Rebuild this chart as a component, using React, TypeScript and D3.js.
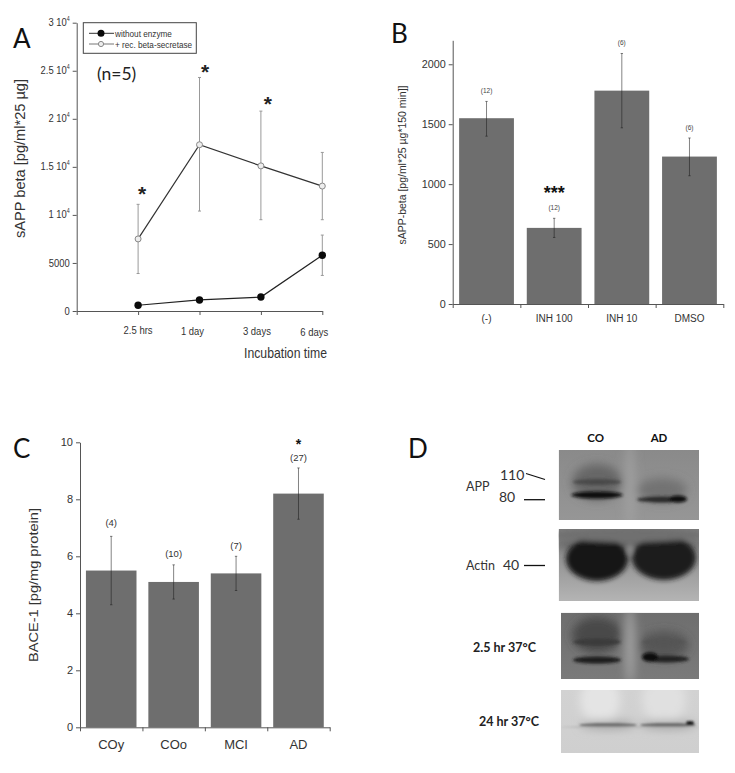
import { useEffect, useRef } from "react";
import * as d3 from "d3";

// Panel A
const timeLabels = ["2.5 hrs", "1 day", "3 days", "6 days"];
const withEnzyme = [7500, 17300, 15100, 13000];
const withEnzymeLow = [3900, 10400, 9500, 9500];
const withEnzymeHigh = [11100, 24300, 20800, 16500];
const noEnzyme = [600, 1150, 1450, 5800];
const noEnzymeLow = [600, 1150, 1450, 3700];
const noEnzymeHigh = [600, 1150, 1450, 7900];
const aTicks = [0, 5000, 10000, 15000, 20000, 25000, 30000];

// Panel B
const bCategories = ["(-)", "INH 100", "INH 10", "DMSO"];
const bValues = [1550, 635, 1780, 1230];
const bLow = [1400, 555, 1470, 1070];
const bHigh = [1690, 715, 2090, 1385];
const bCounts = ["(12)", "(12)", "(6)", "(6)"];
const bTicks = [0, 500, 1000, 1500, 2000];

// Panel C
const cCategories = ["COy", "COo", "MCI", "AD"];
const cValues = [5.5, 5.1, 5.4, 8.2];
const cLow = [4.3, 4.5, 4.8, 7.3];
const cHigh = [6.7, 5.7, 6.0, 9.1];
const cCounts = ["(4)", "(10)", "(7)", "(27)"];
const cTicks = [0, 2, 4, 6, 8, 10];

const ARIAL = "'Liberation Sans', Arial, sans-serif";
const CALIBRI = "Lato, sans-serif";

type Sel = d3.Selection<SVGGElement, unknown, null, undefined>;

function label(g: Sel, txt: string, x: number, y: number, size: number, font: string, fill = "#333", anchor = "start", weight = "normal") {
  return g
    .append("text")
    .attr("x", x)
    .attr("y", y)
    .attr("font-size", size)
    .attr("font-family", font)
    .attr("font-weight", weight)
    .attr("fill", fill)
    .attr("text-anchor", anchor)
    .text(txt);
}

// squeezes or stretches a label to the width it has in the figure
function fit(t: d3.Selection<SVGTextElement, unknown, null, undefined>, len: number) {
  return t.attr("textLength", len).attr("lengthAdjust", "spacingAndGlyphs");
}

function styleAxis(a: Sel, size: number, font: string) {
  a.selectAll("path, line").attr("stroke", "#555").attr("stroke-width", 1);
  a.selectAll("text").attr("font-size", size).attr("font-family", font).attr("fill", "#333");
}

function errorBars(g: Sel, xs: number[], low: number[], high: number[], y: d3.ScaleLinear<number, number>, stroke: string, cap: number) {
  xs.forEach((x, i) => {
    if (low[i] === high[i]) return;
    const p = d3.path();
    p.moveTo(x, y(low[i]));
    p.lineTo(x, y(high[i]));
    p.moveTo(x - cap, y(low[i]));
    p.lineTo(x + cap, y(low[i]));
    p.moveTo(x - cap, y(high[i]));
    p.lineTo(x + cap, y(high[i]));
    g.append("path").attr("d", p.toString()).attr("stroke", stroke).attr("stroke-width", 1).attr("fill", "none");
  });
}

function drawA(root: Sel) {
  const g = root.append("g");
  const y = d3.scaleLinear().domain([0, 30000]).range([311, 22.7]);
  const x = d3.scaleLinear().domain([0, 4]).range([76.7, 322.3]);
  const xs = timeLabels.map((_, i) => x(i + 1));

  const ay = g
    .append("g")
    .attr("transform", "translate(76.7,0)")
    .call(d3.axisLeft(y).tickValues(aTicks).tickSize(4).tickSizeOuter(0).tickFormat(d3.format("d") as any));
  styleAxis(ay, 11.5, ARIAL);
  ay.selectAll<SVGTextElement, number>("text").each(function (d) {
    const t = d3.select(this);
    t.attr("x", 0).attr("transform", `translate(-7,${d < 10000 ? 0 : -1}) scale(0.82,1)`);
    if (d < 10000) return;
    t.text(null);
    t.append("tspan").text(`${d / 10000} 10`);
    t.append("tspan").text("4").attr("font-size", 6.5).attr("dy", -5);
  });

  const ax = g
    .append("g")
    .attr("transform", "translate(0,311)")
    .call(d3.axisBottom(x).tickValues([0, 1, 2, 3, 4]).tickSize(4).tickSizeOuter(0).tickFormat(() => ""));
  styleAxis(ax, 11, ARIAL);

  const labelDx = [0, -7, -4, -8];
  const labelY = [334, 335, 335, 336];
  const labelLen = [29, 23, 28, 28];
  timeLabels.forEach((t, i) => fit(label(g, t, xs[i] + labelDx[i], labelY[i], 11.5, ARIAL, "#333", "middle"), labelLen[i]));
  fit(label(g, "Incubation time", 327, 358, 15, ARIAL, "#333", "end"), 83);

  fit(label(g, "sAPP beta [pg/ml*25 µg]", 0, 0, 14, ARIAL), 159).attr("transform", "translate(25,158.5) rotate(-90)").attr("text-anchor", "middle");

  errorBars(g, xs, withEnzymeLow, withEnzymeHigh, y, "#999", 1.5);
  errorBars(g, xs, noEnzymeLow, noEnzymeHigh, y, "#999", 1.5);

  const line = d3.line<number>().x((_, i) => xs[i]).y((d) => y(d));
  g.append("path").attr("d", line(withEnzyme)).attr("fill", "none").attr("stroke", "#333").attr("stroke-width", 1.2);
  g.append("path").attr("d", line(noEnzyme)).attr("fill", "none").attr("stroke", "#222").attr("stroke-width", 1.2);

  withEnzyme.forEach((d, i) => g.append("circle").attr("cx", xs[i]).attr("cy", y(d)).attr("r", 3).attr("fill", "#eee").attr("stroke", "#888"));
  noEnzyme.forEach((d, i) => g.append("circle").attr("cx", xs[i]).attr("cy", y(d)).attr("r", 3.7).attr("fill", "#0a0a0a"));

  // stars sit just above the upper whiskers
  const starDx = [4, 5.5, 7];
  const starGap = [3.5, -2, 0.5];
  [0, 1, 2].forEach((i) => label(g, "*", xs[i] + starDx[i], y(withEnzymeHigh[i]) - starGap[i], 21, ARIAL, "#222", "middle", "bold"));

  // legend
  const leg = g.append("g");
  leg.append("rect").attr("x", 83.3).attr("y", 22.7).attr("width", 113).attr("height", 30.6).attr("fill", "#fff").attr("stroke", "#444");
  leg.append("line").attr("x1", 89).attr("x2", 114).attr("y1", 33.3).attr("y2", 33.3).attr("stroke", "#333");
  leg.append("circle").attr("cx", 101).attr("cy", 33.3).attr("r", 3.5).attr("fill", "#0a0a0a");
  leg.append("line").attr("x1", 89).attr("x2", 114).attr("y1", 44).attr("y2", 44).attr("stroke", "#777");
  leg.append("circle").attr("cx", 101).attr("cy", 44).attr("r", 2.6).attr("fill", "#eee").attr("stroke", "#888");
  label(leg, "without enzyme", 115, 36.5, 8.2, ARIAL);
  label(leg, "+ rec. beta-secretase", 115, 47.5, 8.2, ARIAL);

  label(g, "(n=5)", 97, 80, 17.5, CALIBRI, "#222");
  label(g, "A", 13, 48, 26, CALIBRI, "#111");
}

function barPanel(
  root: Sel,
  cats: string[],
  vals: number[],
  low: number[],
  high: number[],
  ticks: number[],
  yDomain: [number, number],
  yRange: [number, number],
  xRange: [number, number],
  tickFont: number,
  catFont: number,
  catY: number
) {
  const g = root.append("g");
  const y = d3.scaleLinear().domain(yDomain).range(yRange);
  const x = d3.scaleBand().domain(cats).range(xRange).paddingInner(0.19).paddingOuter(0.095);

  g.selectAll("rect.bar")
    .data(vals)
    .enter()
    .append("rect")
    .attr("class", "bar")
    .attr("x", (_, i) => x(cats[i]) ?? 0)
    .attr("y", (d) => y(d))
    .attr("width", x.bandwidth())
    .attr("height", (d) => yRange[0] - y(d))
    .attr("fill", "#6e6e6e");

  const ay = g
    .append("g")
    .attr("transform", `translate(${xRange[0]},0)`)
    .call(d3.axisLeft(y).tickValues(ticks).tickSize(4).tickSizeOuter(0).tickFormat(d3.format("d") as any));
  styleAxis(ay, tickFont, ARIAL);
  const ax = g
    .append("g")
    .attr("transform", `translate(0,${yRange[0]})`)
    .call(
      d3
        .axisBottom(d3.scaleLinear().domain([0, cats.length]).range(xRange))
        .tickValues(d3.range(cats.length + 1))
        .tickSize(4)
        .tickSizeOuter(0)
        .tickFormat(() => "")
    );
  styleAxis(ax, catFont, ARIAL);

  const xs = cats.map((c) => (x(c) ?? 0) + x.bandwidth() / 2);
  errorBars(g, xs, low, high, y, "rgba(30,30,30,0.55)", 1.2);
  cats.forEach((c, i) => label(g, c, xs[i], catY, catFont, ARIAL, "#333", "middle"));
  return { g, xs, y };
}

function drawB(root: Sel) {
  const { g, xs, y } = barPanel(root, bCategories, bValues, bLow, bHigh, bTicks, [0, 2200], [304, 40.3], [452.7, 723.3], 10.8, 10, 322);
  bCounts.forEach((c, i) => label(g, c, xs[i], y(bHigh[i]) - 8, 6.5, ARIAL, "#444", "middle"));
  label(g, "***", xs[1], y(bHigh[1]) - 19, 18, ARIAL, "#111", "middle", "bold");
  fit(label(g, "sAPP-beta [pg/ml*25 µg*150 min]]", 0, 0, 10, ARIAL), 159).attr("transform", "translate(405.5,165) rotate(-90)").attr("text-anchor", "middle");
  label(g, "B", 391, 43, 26, CALIBRI, "#111");
}

function drawC(root: Sel) {
  const { g, xs, y } = barPanel(root, cCategories, cValues, cLow, cHigh, cTicks, [0, 10], [727.3, 442.3], [80, 329.7], 11, 13, 749);
  const countGap = [10.5, 8, 7.5, 6.5];
  cCounts.forEach((c, i) => label(g, c, xs[i], y(cHigh[i]) - countGap[i], 9.5, ARIAL, "#333", "middle"));
  label(g, "*", xs[3], y(cHigh[3]) - 19, 14, ARIAL, "#111", "middle", "bold");
  fit(label(g, "BACE-1 [pg/mg protein]", 0, 0, 13, ARIAL), 154).attr("transform", "translate(38,585) rotate(-90)").attr("text-anchor", "middle");
  label(g, "C", 13, 458, 26, CALIBRI, "#111");
}

type Blob = [number, number, number, number, string, number?];

function blot(root: Sel, id: string, box: [number, number, number, number], top: string, bottom: string, soft: Blob[], crisp: Blob[], blur: number) {
  const [x, y, w, h] = box;
  const defs = root.append("defs");
  const grad = defs.append("linearGradient").attr("id", `${id}-g`).attr("x1", 0).attr("x2", 0).attr("y1", 0).attr("y2", 1);
  grad.append("stop").attr("offset", 0).attr("stop-color", top);
  grad.append("stop").attr("offset", 1).attr("stop-color", bottom);
  defs.append("clipPath").attr("id", `${id}-c`).append("rect").attr("x", x).attr("y", y).attr("width", w).attr("height", h);
  defs.append("filter").attr("id", `${id}-s`).attr("x", "-50%").attr("y", "-200%").attr("width", "200%").attr("height", "500%").append("feGaussianBlur").attr("stdDeviation", 5);
  defs.append("filter").attr("id", `${id}-f`).attr("x", "-50%").attr("y", "-200%").attr("width", "200%").attr("height", "500%").append("feGaussianBlur").attr("stdDeviation", blur);
  const g = root.append("g").attr("clip-path", `url(#${id}-c)`);
  g.append("rect").attr("x", x).attr("y", y).attr("width", w).attr("height", h).attr("fill", `url(#${id}-g)`);
  const draw = (list: Blob[], filter: string) => {
    const b = g.append("g").attr("filter", `url(#${id}-${filter})`);
    list.forEach(([cx, cy, rx, ry, fill, op]) =>
      b.append("ellipse").attr("cx", cx).attr("cy", cy).attr("rx", rx).attr("ry", ry).attr("fill", fill).attr("opacity", op ?? 1)
    );
  };
  draw(soft, "s");
  draw(crisp, "f");
}

function drawD(root: Sel) {
  blot(root, "b1", [558.7, 450, 140.3, 70], "#8a8a8a", "#969696",
    [
      [630, 485, 5, 45, "#a4a4a4", 0.8],
      [597, 482, 25, 18, "#626262", 0.9],
      [662, 490, 25, 12, "#6a6a6a", 0.8],
    ],
    [
      [597, 482, 24, 3, "#484848"],
      [597, 495, 26, 3.4, "#111"],
      [662, 499.5, 25, 3, "#2a2a2a"],
      [678, 499, 9, 3.6, "#0c0c0c"],
    ], 1.6);
  blot(root, "b2", [558.7, 529, 140.3, 72], "#7c7c7c", "#b4b4b4",
    [[628, 544, 75, 7, "#5e5e5e"]],
    [
      [597, 559, 31, 22, "#161616"],
      [664, 558, 32, 22, "#1c1c1c"],
      [628, 535, 76, 7, "#707070"],
      [630, 549, 2, 5, "#9a9a9a"],
    ], 2.4);
  blot(root, "b3", [561, 612.7, 138, 66.3], "#6e6e6e", "#7a7a7a",
    [
      [630, 645, 5, 40, "#a2a2a2"],
      [597, 635, 25, 18, "#3e3e3e", 0.8],
      [664, 645, 25, 14, "#4a4a4a", 0.7],
    ],
    [
      [597, 642, 24, 3.5, "#3a3a3a"],
      [597, 660, 24, 3.6, "#1c1c1c"],
      [664, 642, 22, 3, "#555"],
      [666, 659, 23, 3.6, "#222"],
      [650, 657, 8, 4.5, "#090909"],
    ], 1.8);
  blot(root, "b4", [561, 690, 138, 63], "#d2d2d2", "#cfcfcf",
    [
      [600, 700, 20, 24, "#e4e4e4"],
      [664, 700, 22, 24, "#e0e0e0"],
      [608, 725, 28, 4, "#a0a0a0"],
      [668, 725, 28, 4, "#a0a0a0"],
    ],
    [
      [608, 725, 29, 1.8, "#6a6a6a"],
      [668, 725, 28, 1.8, "#666"],
      [690, 723, 4, 2, "#1a1a1a"],
      [630, 727, 70, 0.6, "#aaa"],
    ], 1.3);

  const g = root.append("g");
  label(g, "CO", 595.7, 442, 11.5, CALIBRI, "#111", "middle", "bold");
  label(g, "AD", 659, 442, 11.5, CALIBRI, "#111", "middle", "bold");
  label(g, "APP", 466, 491, 12.5, CALIBRI, "#333");
  label(g, "110", 500, 480, 14, CALIBRI, "#333");
  label(g, "80", 499, 502, 14, CALIBRI, "#333");
  label(g, "Actin", 466, 570, 12.5, CALIBRI, "#333");
  label(g, "40", 503, 570, 14, CALIBRI, "#333");
  label(g, "2.5 hr 37°C", 473, 652, 12.5, CALIBRI, "#222", "start", "bold");
  label(g, "24 hr 37°C", 479, 726, 12.5, CALIBRI, "#222", "start", "bold");
  const ln = (x1: number, y1: number, x2: number, y2: number) =>
    g.append("line").attr("x1", x1).attr("y1", y1).attr("x2", x2).attr("y2", y2).attr("stroke", "#111").attr("stroke-width", 1.3);
  ln(526, 473.5, 545, 479.5);
  ln(524, 499.7, 545, 499.7);
  ln(524, 565.5, 545, 565.5);
  label(g, "D", 408, 458, 26, CALIBRI, "#111");
}

export default function App() {
  const svgRef = useRef<SVGSVGElement | null>(null);

  useEffect(() => {
    if (!svgRef.current) return;
    d3.select(svgRef.current).selectAll("*").remove();
    const root = d3.select(svgRef.current).append("g") as unknown as Sel;
    drawA(root);
    drawB(root);
    drawC(root);
    drawD(root);
  }, []);

  return (
    <svg
      ref={svgRef}
      width={735}
      height={773}
      style={{ position: "absolute", left: 0, top: 0, display: "block", background: "#fff" }}
    ></svg>
  );
}
